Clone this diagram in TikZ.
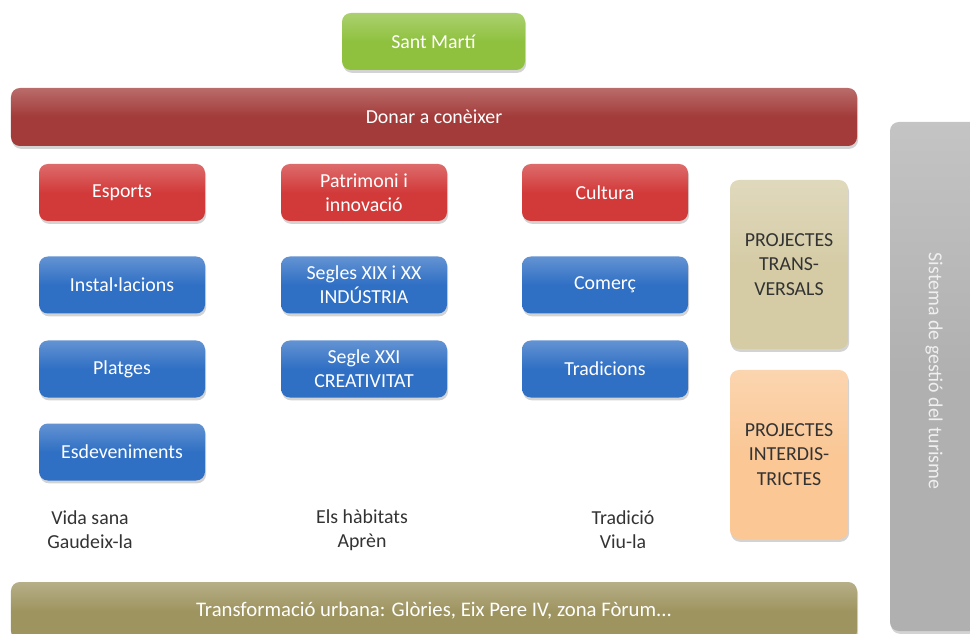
\documentclass[tikz,border=0pt]{standalone}
\usepackage{fontspec}
\setmainfont{Carlito}
\usetikzlibrary{shadows}

\definecolor{verdSM}{HTML}{8FC13F}
\definecolor{vermellFosc}{HTML}{A23B39}
\definecolor{vermell}{HTML}{D23A3A}
\definecolor{blau}{HTML}{2F6FC4}
\definecolor{beix}{HTML}{D5CCA6}
\definecolor{taronja}{HTML}{FAC795}
\definecolor{gris}{HTML}{B0B0B0}
\definecolor{oliva}{HTML}{9E9460}
\definecolor{textfosc}{HTML}{333333}

\begin{document}
\begin{tikzpicture}[
    every node/.append style={font=\fontsize{11.3}{13.8}\selectfont},
    % estils de caixes
    caixa/.style={rounded corners=5pt, align=center, text=white,
        top color=#1!75!white, bottom color=#1, middle color=#1,
        drop shadow={opacity=0.35, shadow xshift=0.6pt, shadow yshift=-1.6pt}},
    eix/.style={caixa=#1, minimum width=3.32cm, minimum height=1.14cm},
    barra/.style={caixa=#1, minimum width=16.92cm, minimum height=1.16cm},
    projecte/.style={caixa=#1, text=textfosc, minimum width=2.36cm, minimum height=3.38cm},
    lema/.style={align=center, text=textfosc},
]
\useasboundingbox (0,0) rectangle (19.4,-12.68);
\clip (0,0) rectangle (19.4,-12.68);

% ========== Capçalera ==========
\node[caixa=verdSM, minimum width=3.66cm, minimum height=1.14cm] (santmarti) at (8.67,-0.83) {Sant Martí};
\node[barra=vermellFosc] (donar) at (8.68,-2.34) {Donar a conèixer};

% ========== Eixos temàtics ==========
\node[eix=vermell] (esports) at (2.44,-3.85) {Esports};
\node[eix=vermell] (patrimoni) at (7.28,-3.85) {Patrimoni i\\innovació};
\node[eix=vermell] (cultura) at (12.10,-3.85) {Cultura};

% ========== Subeixos ==========
\node[eix=blau] (installacions) at (2.44,-5.70) {Instal·lacions};
\node[eix=blau] (platges) at (2.44,-7.38) {Platges};
\node[eix=blau] (esdeveniments) at (2.44,-9.04) {Esdeveniments};
\node[eix=blau] (industria) at (7.28,-5.70) {Segles XIX i XX\\INDÚSTRIA};
\node[eix=blau] (creativitat) at (7.28,-7.38) {Segle XXI\\CREATIVITAT};
\node[eix=blau] (comerc) at (12.10,-5.70) {Comerç};
\node[eix=blau] (tradicions) at (12.10,-7.38) {Tradicions};

% ========== Lemes ==========
\node[lema] (vidasana) at (1.80,-10.60) {Vida sana\\Gaudeix-la};
\node[lema] (habitats) at (7.24,-10.60) {Els hàbitats\\Aprèn};
\node[lema] (tradicio) at (12.46,-10.60) {Tradició\\Viu-la};

% ========== Projectes ==========
\node[projecte=beix] (transversals) at (15.78,-5.29) {PROJECTES\\TRANS-\\VERSALS};
\node[projecte=taronja] (interdistrictes) at (15.78,-9.09) {PROJECTES\\INTERDIS-\\TRICTES};

% ========== Sistema de gestió ==========
\node[caixa=gris, minimum width=1.8cm, minimum height=10.18cm] (sistema) at (18.7,-7.53) {};
\node[rotate=-90, text=white!80!gris] (sistematext) at (18.68,-7.42) {Sistema de gestió del turisme};

% ========== Transformació urbana ==========
\node[barra=oliva, font=\fontsize{11.8}{14}\selectfont] (transformacio) at (8.68,-12.22) {Transformació urbana: Glòries, Eix Pere IV, zona Fòrum...};

\end{tikzpicture}
\end{document}
